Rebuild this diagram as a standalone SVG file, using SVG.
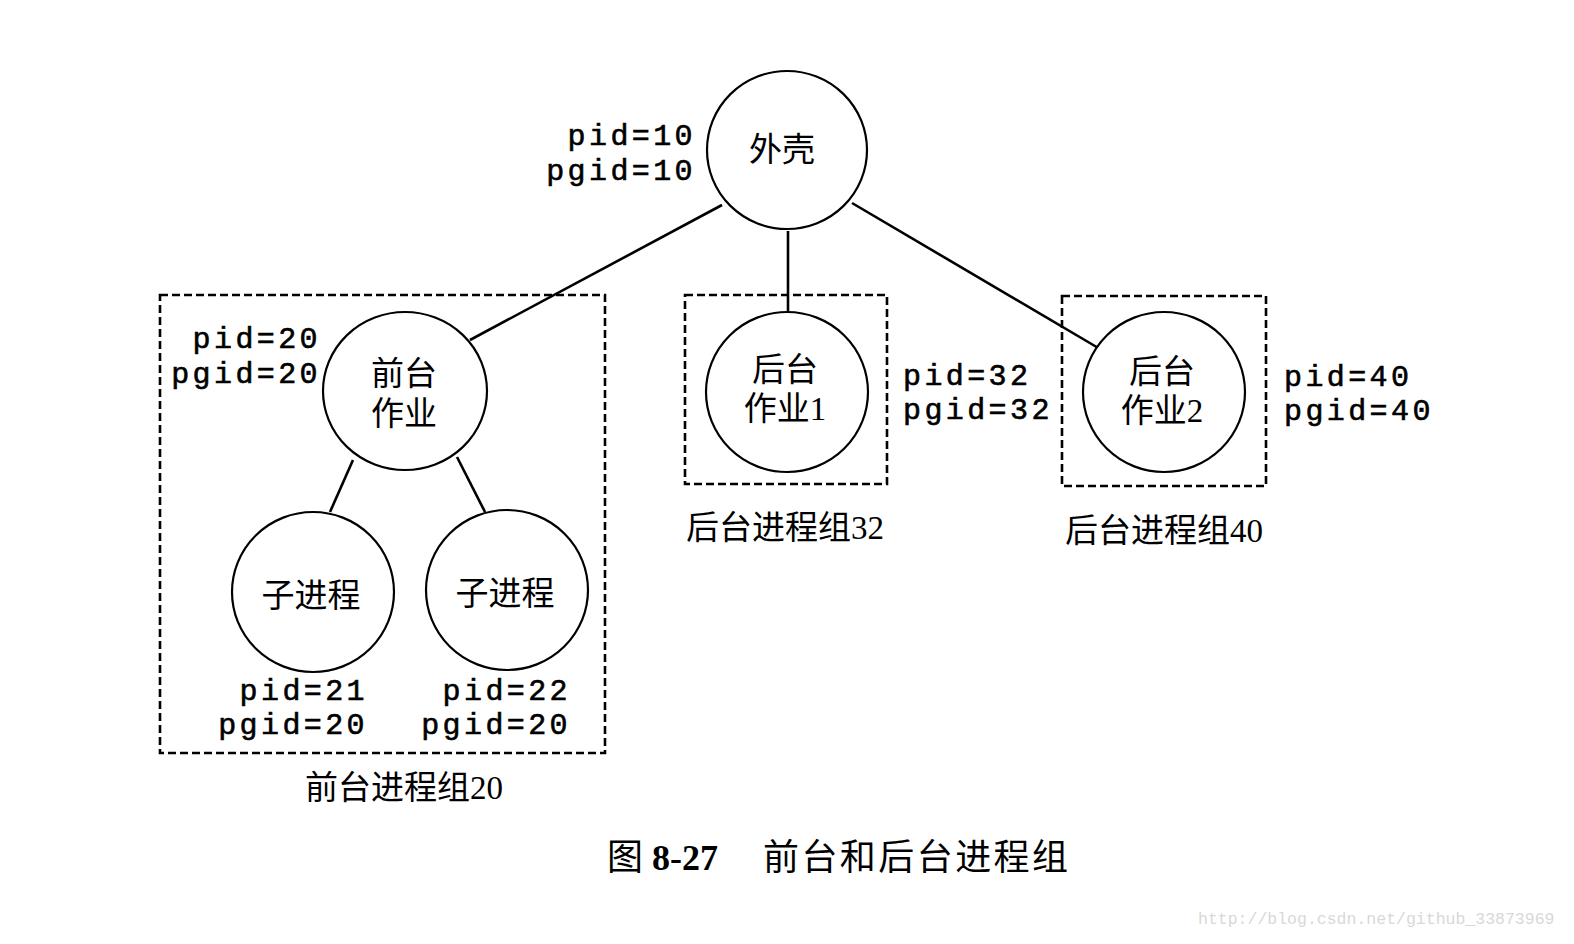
<svg xmlns="http://www.w3.org/2000/svg" width="1574" height="944" viewBox="0 0 1574 944">
<style>
.node{fill:#fff;stroke:#000;stroke-width:2.2}
.box{fill:none;stroke:#000;stroke-width:2.6;stroke-dasharray:8 4}
.edge{stroke:#000;stroke-width:2.6;fill:none}
.cn{font-family:"Liberation Serif","Noto Sans CJK SC",serif;font-size:33px;fill:#000;text-anchor:middle}
.id{font-family:"Liberation Mono",monospace;font-size:30px;letter-spacing:3.4px;fill:#000;stroke:#000;stroke-width:0.6}
.end{text-anchor:end}
.cap{font-family:"Liberation Serif","Noto Sans CJK SC",serif;font-size:36px;fill:#000}
.wm{font-family:"Liberation Mono",monospace;font-size:16.5px;fill:#d8d8d8}
</style>
<rect width="1574" height="944" fill="#fff"/>
<g id="connectors">
<line class="edge" x1="722" y1="205" x2="470" y2="340"/>
<line class="edge" x1="788" y1="231" x2="788" y2="311"/>
<line class="edge" x1="852" y1="203" x2="1100" y2="349"/>
<line class="edge" x1="353" y1="460" x2="330" y2="512"/>
<line class="edge" x1="457" y1="457" x2="485" y2="512"/>
</g>
<g id="group20"><rect class="box" x="160" y="295" width="445" height="458"/>
<text class="cn" x="404" y="799">前台进程组20</text></g>
<g id="group32"><rect class="box" x="685" y="295" width="202" height="189"/>
<text class="cn" x="785" y="539">后台进程组32</text></g>
<g id="group40"><rect class="box" x="1062" y="296" width="204" height="190"/>
<text class="cn" x="1164" y="542">后台进程组40</text></g>
<g id="shell"><ellipse class="node" cx="787" cy="150" rx="80" ry="79"/>
<text class="cn" x="782" y="161">外壳</text>
<text class="id end" x="696" y="145">pid=10</text>
<text class="id end" x="696" y="180">pgid=10</text></g>
<g id="fg"><ellipse class="node" cx="405" cy="391" rx="82" ry="79"/>
<text class="cn" x="404" y="385">前台</text>
<text class="cn" x="404" y="425">作业</text>
<text class="id end" x="321" y="348">pid=20</text>
<text class="id end" x="321" y="383">pgid=20</text></g>
<g id="child1"><ellipse class="node" cx="313" cy="592" rx="81" ry="80"/>
<text class="cn" x="311" y="607">子进程</text>
<text class="id end" x="368" y="700">pid=21</text>
<text class="id end" x="368" y="734">pgid=20</text></g>
<g id="child2"><ellipse class="node" cx="507" cy="590" rx="81" ry="80"/>
<text class="cn" x="505" y="605">子进程</text>
<text class="id end" x="571" y="700">pid=22</text>
<text class="id end" x="571" y="734">pgid=20</text></g>
<g id="bg1"><ellipse class="node" cx="787" cy="392" rx="81" ry="80"/>
<text class="cn" x="785" y="381">后台</text>
<text class="cn" x="785" y="420">作业1</text>
<text class="id" x="903" y="385">pid=32</text>
<text class="id" x="903" y="419">pgid=32</text></g>
<g id="bg2"><ellipse class="node" cx="1164" cy="392" rx="81" ry="80"/>
<text class="cn" x="1162" y="383">后台</text>
<text class="cn" x="1162" y="422">作业2</text>
<text class="id" x="1284" y="386">pid=40</text>
<text class="id" x="1284" y="420">pgid=40</text></g>
<g id="caption">
<text class="cap" x="607" y="870">图 <tspan font-weight="bold">8-27</tspan></text>
<text class="cap" x="763" y="870" textLength="305" lengthAdjust="spacing">前台和后台进程组</text>
</g>
<text class="wm" x="1198" y="924">http://blog.csdn.net/github_33873969</text>
</svg>
